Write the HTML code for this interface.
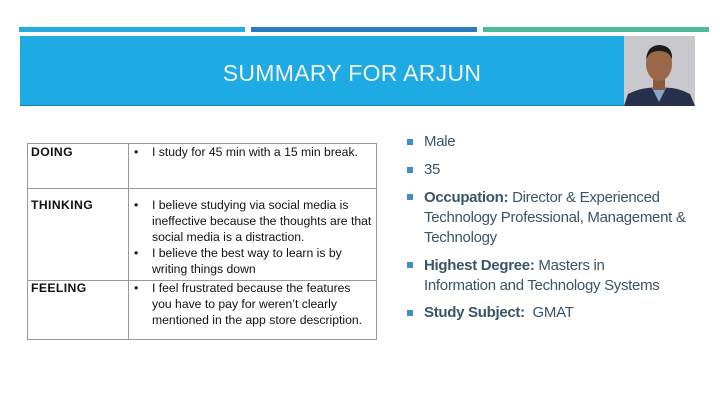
<!DOCTYPE html>
<html><head><meta charset="utf-8"><style>
*{margin:0;padding:0;box-sizing:border-box}
body{width:720px;height:405px;background:#fff;position:relative;overflow:hidden;font-family:"Liberation Sans",sans-serif}
.a{position:absolute}
.bar{position:absolute;top:27px;height:5px}
.t{position:absolute;font-size:12.2px;color:#111;white-space:nowrap;line-height:16px}
.b{font-weight:bold;letter-spacing:0.4px}
.r{position:absolute;left:424px;font-size:15px;color:#3a5468;white-space:nowrap;letter-spacing:-0.3px;line-height:18px}
.sq{position:absolute;left:407px;width:6px;height:6px;background:#3a8fc9}
.ln{position:absolute;background:#999}
</style></head><body>
<div class="bar" style="left:19px;width:226px;background:#2aa9dd"></div>
<div class="bar" style="left:251px;width:226px;background:#2b7cbf"></div>
<div class="bar" style="left:483px;width:226px;background:#4bbb99"></div>
<div class="a" style="left:20px;top:36px;width:604px;height:70px;background:#1eabe3;border-bottom:1px solid #1a7fb0"></div>
<div class="a" style="left:20px;top:60px;width:664px;text-align:center;color:#f2f2f2;font-size:23px;letter-spacing:0.3px">SUMMARY FOR ARJUN</div>
<svg class="a" style="left:624px;top:36px" width="71" height="70" viewBox="0 0 71 70">
<rect width="71" height="70" fill="#c9c9cd"/>
<path d="M0 70 L4 58 Q20 50 35 52 Q52 50 66 58 L71 70Z" fill="#26304a"/>
<path d="M28 52 L35 66 L42 52Z" fill="#8aa6c8"/>
<rect x="29" y="40" width="12" height="14" fill="#8a5a3c"/>
<ellipse cx="35" cy="28" rx="13" ry="17" fill="#9a6848"/>
<path d="M22 24 Q23 9 36 9 Q49 10 48 24 Q46 15 35 15 Q25 15 22 24Z" fill="#1e1a18"/>
</svg>
<div class="a" style="left:27px;top:143px;width:350px;height:197px;border:1px solid #999"></div>
<div class="ln" style="left:128px;top:143px;width:1px;height:197px"></div>
<div class="ln" style="left:27px;top:188px;width:350px;height:1px"></div>
<div class="ln" style="left:27px;top:280px;width:350px;height:1px"></div>
<div class="t b" style="left:31px;top:144px">DOING</div>
<div class="t b" style="left:31px;top:197px">THINKING</div>
<div class="t b" style="left:31px;top:280px">FEELING</div>
<div class="t" style="left:134px;top:144px">•</div><div class="t" style="left:152px;top:144px">I study for 45 min with a 15 min break.</div>
<div class="t" style="left:134px;top:197px">•</div>
<div class="t" style="left:152px;top:197px">I believe studying via social media is<br>ineffective because the thoughts are that<br>social media is a distraction.</div>
<div class="t" style="left:134px;top:245px">•</div>
<div class="t" style="left:152px;top:245px">I believe the best way to learn is by<br>writing things down</div>
<div class="t" style="left:134px;top:280px">•</div>
<div class="t" style="left:152px;top:280px">I feel frustrated because the features<br>you have to pay for weren’t clearly<br>mentioned in the app store description.</div>
<div class="sq" style="top:139px"></div><div class="r" style="top:133px">Male</div>
<div class="sq" style="top:167px"></div><div class="r" style="top:161px">35</div>
<div class="sq" style="top:194px"></div><div class="r" style="top:188px;line-height:20px"><b>Occupation:</b> Director &amp; Experienced<br>Technology Professional, Management &amp;<br>Technology</div>
<div class="sq" style="top:262px"></div><div class="r" style="top:256px;line-height:20px"><b>Highest Degree:</b> Masters in<br>Information and Technology Systems</div>
<div class="sq" style="top:310px"></div><div class="r" style="top:304px"><b>Study Subject:</b>&nbsp; GMAT</div>
</body></html>
